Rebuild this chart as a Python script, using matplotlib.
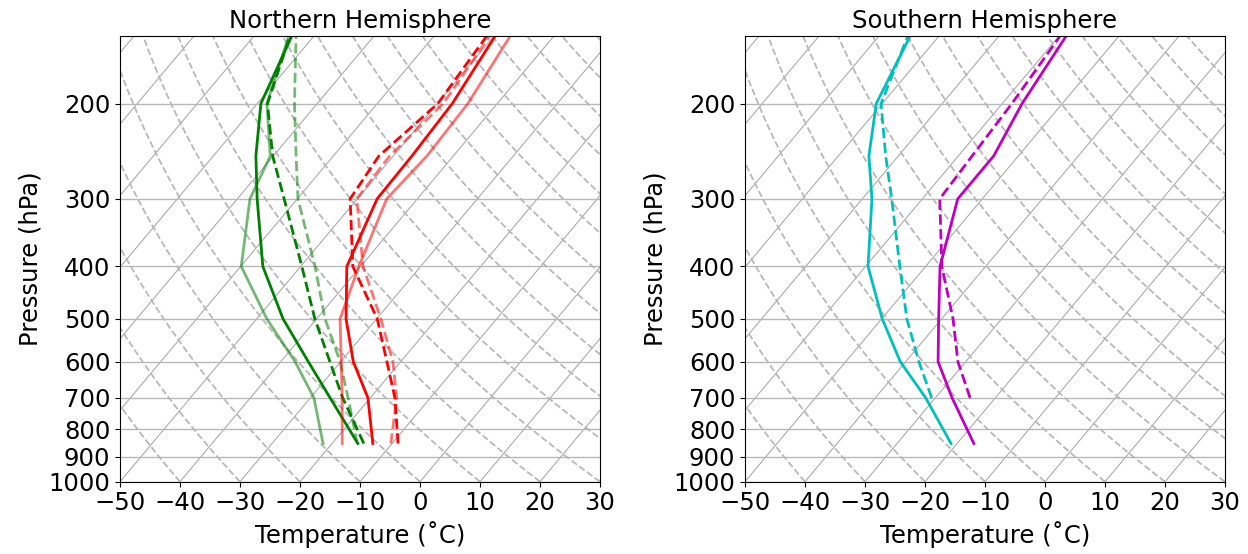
import numpy as np
import matplotlib
matplotlib.use("Agg")
import matplotlib.pyplot as plt
from matplotlib.ticker import FixedLocator, NullLocator


# pressure levels (hPa), bottom to top
PRESSURE_HPA = [850, 700, 600, 500, 400, 300, 250, 200, 150]

# Northern Hemisphere profiles (degC)
NH_GREEN_SOLID = [-15.7, -26.7, -35.4, -45.6, -56.3, -66.7, -72.9, -79.4, -83.7]
NH_GREEN_DASHED = [-14.7, -24.6, -31.8, -40.3, -49.8, -62.2, -70.1, -78.3, -84.0]
NH_LIGHTGREEN_SOLID = [-21.5, -29.4, -37.6, -48.3, -59.9, -67.9, -70.5, -78.4, -84.2]
NH_LIGHTGREEN_DASHED = [-15.8, -23.7, -30.1, -38.6, -47.6, -59.9, -66.2, -73.8, -83.0]
NH_RED_SOLID = [-13.2, -20.4, -27.9, -35.1, -42.3, -46.7, -46.9, -47.5, -49.8]
NH_RED_DASHED = [-9.0, -15.9, -22.3, -29.9, -41.3, -51.2, -52.4, -49.9, -51.2]
NH_LIGHTRED_SOLID = [-18.3, -24.7, -29.9, -36.1, -40.3, -45.1, -44.4, -44.9, -47.3]
NH_LIGHTRED_DASHED = [-10.2, -15.6, -21.3, -29.3, -39.6, -50.1, -50.6, -49.0, -50.7]

# Southern Hemisphere profiles (degC); dashed ones start at 700 hPa
SH_CYAN_SOLID = [-21.0, -31.6, -40.9, -49.9, -59.6, -68.4, -74.9, -81.0, -84.8]
SH_CYAN_DASHED = [-30.6, -37.8, -45.8, -54.3, -65.1, -72.1, -80.2, -85.2]
SH_MAGENTA_SOLID = [-17.2, -27.2, -34.6, -40.5, -47.6, -54.1, -54.1, -56.7, -58.8]
SH_MAGENTA_DASHED = [-24.2, -31.3, -38.1, -47.3, -57.1, -57.7, -58.4, -59.8]

ISOTHERMS = np.arange(-130, 40, 10)
DRY_ADIABATS = np.arange(-50, 200, 10)
Y_TICKS = [200, 300, 400, 500, 600, 700, 800, 900, 1000]

P_BOTTOM, P_TOP = 1000, 150
T_MIN, T_MAX = -50, 30
ROTATION = 40
FS = 17.5


def make_skew(ax, fig):
    bbox = ax.get_window_extent(fig.canvas.get_renderer())
    px_per_decade = bbox.height / np.log10(P_BOTTOM / P_TOP)
    px_per_degree = bbox.width / (T_MAX - T_MIN)
    c = np.tan(np.radians(ROTATION)) * px_per_decade / px_per_degree

    def skew(t, p):
        return np.asarray(t, dtype=float) + c * np.log10(P_BOTTOM / np.asarray(p, dtype=float))

    return skew


def setup_axes(ax, fig, title):
    ax.set_yscale("log")
    ax.set_ylim(P_BOTTOM, P_TOP)
    ax.set_xlim(T_MIN, T_MAX)
    ax.yaxis.set_major_locator(FixedLocator(Y_TICKS))
    ax.yaxis.set_minor_locator(NullLocator())
    ax.set_yticklabels([str(v) for v in Y_TICKS])
    ax.set_xticks(np.arange(T_MIN, T_MAX + 1, 10))
    ax.tick_params(labelsize=FS)
    ax.grid(axis="y", color="#b8b8b8", linewidth=1.0)
    ax.set_title(title, fontsize=FS)
    ax.set_xlabel("Temperature (˚C)", fontsize=FS)
    ax.set_ylabel("Pressure (hPa)", fontsize=FS)

    skew = make_skew(ax, fig)
    p_line = np.array([P_BOTTOM, P_TOP])
    for t0 in ISOTHERMS:
        ax.plot(skew([t0, t0], p_line), p_line, color="#a6a6a6", linewidth=0.75, zorder=1)
    p_curve = np.linspace(P_BOTTOM, P_TOP, 120)
    for th in DRY_ADIABATS:
        t = (th + 273.15) * (p_curve / 1000.0) ** 0.2857 - 273.15
        ax.plot(skew(t, p_curve), p_curve, color="#b8b8b8", linestyle="--",
                linewidth=1.3, zorder=1)
    return skew


def main():
    fig = plt.figure(figsize=(12.48, 5.54), dpi=100)
    fig.patch.set_facecolor("white")
    ax1 = fig.add_axes([120 / 1248, 72.3 / 554, 480 / 1248, 445.7 / 554])
    ax2 = fig.add_axes([745 / 1248, 72.3 / 554, 480 / 1248, 445.7 / 554])

    p = np.array(PRESSURE_HPA)
    lw = 2.0

    skew = setup_axes(ax1, fig, "Northern Hemisphere")
    ax1.plot(skew(NH_LIGHTGREEN_SOLID, p), p, color="g", alpha=0.55, lw=lw)
    ax1.plot(skew(NH_LIGHTGREEN_DASHED, p), p, color="g", alpha=0.55, lw=lw, ls="--")
    ax1.plot(skew(NH_GREEN_SOLID, p), p, color="g", lw=lw)
    ax1.plot(skew(NH_GREEN_DASHED, p), p, color="g", lw=lw, ls="--")
    ax1.plot(skew(NH_LIGHTRED_SOLID, p), p, color="r", alpha=0.55, lw=lw)
    ax1.plot(skew(NH_LIGHTRED_DASHED, p), p, color="r", alpha=0.55, lw=lw, ls="--")
    ax1.plot(skew(NH_RED_SOLID, p), p, color="r", lw=lw)
    ax1.plot(skew(NH_RED_DASHED, p), p, color="r", lw=lw, ls="--")

    skew = setup_axes(ax2, fig, "Southern Hemisphere")
    ax2.plot(skew(SH_CYAN_SOLID, p), p, color="c", lw=lw)
    ax2.plot(skew(SH_CYAN_DASHED, p[1:]), p[1:], color="c", lw=lw, ls="--")
    ax2.plot(skew(SH_MAGENTA_SOLID, p), p, color="m", lw=lw)
    ax2.plot(skew(SH_MAGENTA_DASHED, p[1:]), p[1:], color="m", lw=lw, ls="--")

    fig.savefig("out.png", dpi=100)
    plt.close(fig)


if __name__ == "__main__":
    main()
